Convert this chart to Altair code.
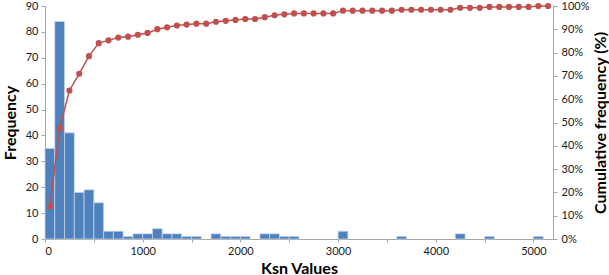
import altair as alt
import pandas as pd

# Histogram of Ksn values: bin starts (width 100) and frequency per bin
bin_starts = list(range(0, 5200, 100))
counts = [35, 84, 41, 18, 19, 14, 3, 3, 1, 2, 2, 4, 2, 2, 1, 1, 0, 2, 1, 1,
          1, 0, 2, 2, 1, 1, 0, 0, 0, 0, 3, 0, 0, 0, 0, 0, 1, 0, 0, 0,
          0, 0, 2, 0, 0, 1, 0, 0, 0, 0, 1, 0]
bin_width = 100
x_tick_values = list(range(0, 5001, 500))
y_left_ticks = list(range(0, 91, 10))
y_right_ticks = [i / 10 for i in range(0, 11)]

df = pd.DataFrame({
    "start": bin_starts,
    "end": [s + bin_width for s in bin_starts],
    "mid": [s + bin_width / 2 for s in bin_starts],
    "count": counts,
})

FONT = "Lato"
AXIS_COLOR = "#a6a6a6"
LABEL_COLOR = "#1a1a1a"

x_scale = alt.Scale(domain=[0, 5200], nice=False, zero=False)

bars = alt.Chart(df).transform_filter(
    "datum.count > 0"
).mark_bar(
    color="#4F81BD", stroke="#c9d8ec", strokeWidth=0.7
).encode(
    x=alt.X("start:Q", scale=x_scale,
            axis=alt.Axis(values=x_tick_values, format="d",
                          labelExpr="datum.value % 1000 == 0 ? datum.label : ''",
                          title="Ksn Values", titleY=29, titleBaseline="middle",
                          tickSize=3, labelPadding=3)),
    x2="end:Q",
    y=alt.Y("count:Q", scale=alt.Scale(domain=[0, 90], nice=False),
            axis=alt.Axis(values=y_left_ticks, title="Frequency",
                          titleX=-35, titleY=116.5, titleAngle=270,
                          titleBaseline="middle", titleAlign="center",
                          tickSize=4, labelPadding=3)),
    y2=alt.datum(0),
)

line = alt.Chart(df).transform_window(
    cum="sum(count)", sort=[alt.SortField("start")]
).transform_joinaggregate(
    total="sum(count)"
).transform_calculate(
    frac="datum.cum / datum.total"
).mark_line(
    color="#C0504D", strokeWidth=1.5,
    point=alt.OverlayMarkDef(filled=True, size=38, color="#C0504D", opacity=1)
).encode(
    x=alt.X("mid:Q", scale=x_scale),
    y=alt.Y("frac:Q", scale=alt.Scale(domain=[0, 1], nice=False),
            axis=alt.Axis(orient="right", format="%", values=y_right_ticks,
                          title="Cumulative frequency (%)",
                          titleX=47, titleY=116.5, titleAngle=270,
                          titleBaseline="middle", titleAlign="center",
                          tickSize=4, labelPadding=4)),
)

chart = alt.layer(bars, line).resolve_scale(y="independent").properties(
    width=508, height=233,
    autosize=alt.AutoSizeParams(type="none"),
    padding={"left": 45, "top": 6, "right": 56, "bottom": 36},
).configure_view(stroke=None).configure_axis(
    grid=False, domainColor=AXIS_COLOR, tickColor=AXIS_COLOR,
    labelFont=FONT, labelFontSize=11, labelColor=LABEL_COLOR,
    titleFont=FONT, titleFontSize=16, titleFontWeight="bold", titleColor="#000000",
)

chart.save("out.html", embed_options={"renderer": "svg", "actions": False})
